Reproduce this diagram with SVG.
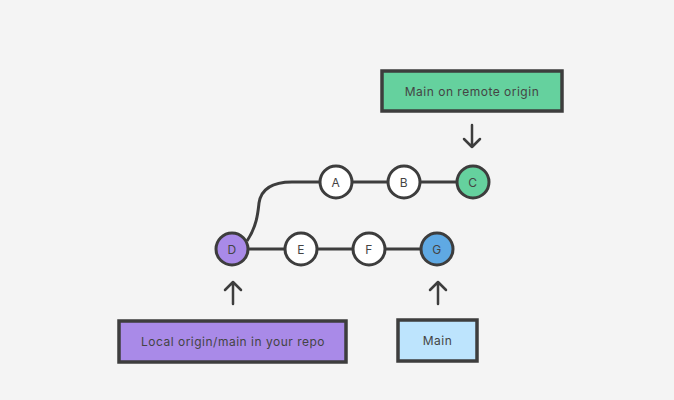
<svg xmlns="http://www.w3.org/2000/svg" width="674" height="400" viewBox="0 0 674 400">
<style>
.bg{fill:#f4f4f4}
.box{stroke:#3d3d3d;stroke-width:3.5}
.node{stroke:#3d3d3d;stroke-width:3;fill:#ffffff}
.edge{stroke:#3d3d3d;stroke-width:3;fill:none}
.arr{stroke:#3d3d3d;stroke-width:2.5;fill:none;stroke-linecap:round;stroke-linejoin:round}
text{font-family:"Inter","Liberation Sans",sans-serif;font-size:12px;letter-spacing:0.5px;fill:#444444;text-anchor:middle;dominant-baseline:central}
</style>
<rect class="bg" x="0" y="0" width="674" height="400"/>
<g id="connectors">
<path class="edge" d="M247 241 C257 226 258 212 259 203 C261 190 270 182 292 182 L473 182"/>
<path class="edge" d="M232 249 L437 249"/>
<path class="arr" d="M472 125 L472 147 M464 139 L472 147 L480 139"/>
<path class="arr" d="M233 304 L233 282 M225 290 L233 282 L241 290"/>
<path class="arr" d="M438 304 L438 282 M430 290 L438 282 L446 290"/>
</g>
<g id="remote-label"><rect class="box" x="382" y="71" width="180" height="40" fill="#65d19e"/><text x="472" y="91">Main on remote origin</text></g>
<g id="local-label"><rect class="box" x="119" y="321" width="227" height="41" fill="#a98ae8"/><text x="233" y="341.5">Local origin/main in your repo</text></g>
<g id="main-label"><rect class="box" x="398" y="320" width="79" height="41" fill="#bde4fd"/><text x="437.5" y="340.5">Main</text></g>
<g id="A"><circle class="node" cx="336" cy="182" r="16"/><text x="336" y="182">A</text></g>
<g id="B"><circle class="node" cx="404" cy="182" r="16"/><text x="404" y="182">B</text></g>
<g id="C"><circle class="node" cx="473" cy="182" r="16" style="fill:#65d19e"/><text x="473" y="182">C</text></g>
<g id="D"><circle class="node" cx="232" cy="249" r="16" style="fill:#a98ae8"/><text x="232" y="249">D</text></g>
<g id="E"><circle class="node" cx="301" cy="249" r="16"/><text x="301" y="249">E</text></g>
<g id="F"><circle class="node" cx="369" cy="249" r="16"/><text x="369" y="249">F</text></g>
<g id="G"><circle class="node" cx="437" cy="249" r="16" style="fill:#5fa9e3"/><text x="437" y="249">G</text></g>
</svg>
